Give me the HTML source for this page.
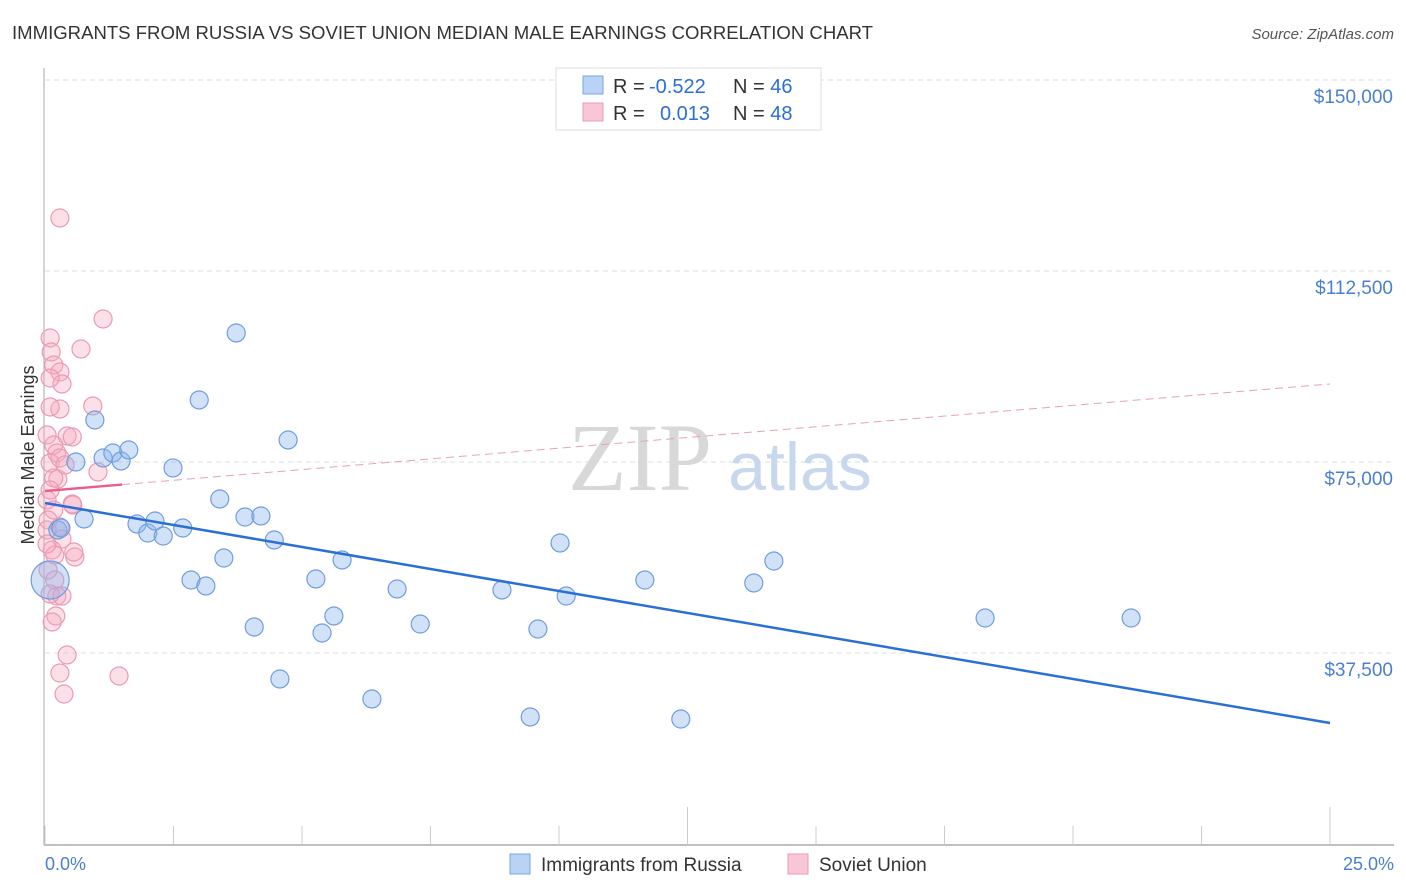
<!DOCTYPE html>
<html><head><meta charset="utf-8"><style>
body{margin:0;background:#fff;font-family:"Liberation Sans",sans-serif;}
svg{display:block}
</style></head><body>
<svg id="chart" width="1406" height="892" xmlns="http://www.w3.org/2000/svg">
<text x="12" y="39" font-size="18.5" fill="#333" textLength="861" lengthAdjust="spacingAndGlyphs">IMMIGRANTS FROM RUSSIA VS SOVIET UNION MEDIAN MALE EARNINGS CORRELATION CHART</text>
<text x="1394" y="39" font-size="15" fill="#555" font-style="italic" text-anchor="end">Source: ZipAtlas.com</text>
<g id="grid"></g>
<text x="640" y="490" font-size="96" fill="#d8d8d8" font-family="Liberation Serif" text-anchor="middle">ZIP</text>
<text x="800" y="490" font-size="68" fill="#c7d8ee" text-anchor="middle">atlas</text>
<g id="marks"></g>
<text transform="translate(34,455) rotate(-90)" font-size="18" fill="#333" text-anchor="middle">Median Male Earnings</text>
<g>
<rect x="556" y="68" width="265" height="62" fill="#fff" stroke="#ddd"/>
<rect x="583" y="76" width="20" height="18" fill="#b8d3f5" stroke="#7aa6e0"/>
<rect x="583" y="103" width="20" height="18" fill="#f9c6d5" stroke="#eb9ab4"/>
<text x="613" y="93" font-size="20" fill="#333">R = <tspan fill="#2a6fd6" x="649">-0.522</tspan><tspan x="733">N = </tspan><tspan fill="#2a6fd6">46</tspan></text>
<text x="613" y="120" font-size="20" fill="#333">R = <tspan fill="#2a6fd6" x="660">0.013</tspan><tspan x="733">N = </tspan><tspan fill="#2a6fd6">48</tspan></text>
</g>
<text x="45" y="870" font-size="18" fill="#4a7fd0">0.0%</text>
<text x="1394" y="870" font-size="18" fill="#4a7fd0" text-anchor="end">25.0%</text>
<g>
<rect x="510" y="854" width="20" height="20" fill="#b8d3f5" stroke="#7aa6e0"/>
<text x="541" y="871" font-size="19" fill="#333">Immigrants from Russia</text>
<rect x="788" y="854" width="20" height="20" fill="#f9c6d5" stroke="#eb9ab4"/>
<text x="819" y="871" font-size="19" fill="#333">Soviet Union</text>
</g>
</svg>
<script>
const yTicks=[37500,75000,112500,150000];
const yTickLabels=["$37,500","$75,000","$112,500","$150,000"];
const xTicks=[0,2.5,5,7.5,10,12.5,15,17.5,20,22.5,25];
const blueX=[0.97,0.60,1.13,1.32,1.48,1.63,2.49,3.00,3.72,4.73,3.40,1.79,2.00,2.14,2.30,2.68,3.89,4.20,4.46,3.48,2.84,3.13,4.07,4.57,5.27,5.78,5.62,5.39,6.36,6.85,7.30,8.89,9.44,9.59,10.02,10.14,11.67,12.37,13.79,14.18,18.29,21.13,0.76,0.25,0.31,0.10];
const blueY=[83250,75000,75790,76770,75200,77360,73830,87180,100330,79320,67740,62830,61060,63420,60470,62040,64200,64400,59690,56150,51830,50660,42610,32400,52030,55760,44770,41430,28470,50070,43190,49870,24940,42210,59100,48690,51830,24540,51250,55560,44370,44370,63810,61650,62040,51830];
const pinkX=[0.29,1.13,0.70,0.10,0.12,0.17,0.29,0.33,0.10,0.93,0.29,0.10,0.43,0.04,0.17,0.23,1.03,0.25,0.17,0.53,0.04,0.17,0.06,0.29,0.58,0.33,0.14,0.06,0.19,0.23,0.33,0.10,0.21,0.43,0.29,0.37,1.44,0.10,0.10,0.29,0.04,0.19,0.04,0.54,0.53,0.56,0.14,0.39];
const pinkY=[122910,103080,97190,99350,96600,94050,92670,90320,91490,86000,85410,85800,80110,80300,78340,76770,73040,71660,71860,66760,67540,65580,63610,62240,56350,59880,57720,53800,51830,48690,48690,49090,44770,37110,33570,29450,32990,69510,74810,75790,61650,56740,58900,66560,79910,57330,43590,74420];
const blueTrend=[66950,23760];
const pinkTrend=[69310,90320];
const X=v=>45+v/25*1285;
const Y=v=>844-v/37500*191;
const NS="http://www.w3.org/2000/svg";
const gridG=document.getElementById('grid'),marksG=document.getElementById('marks');
function mk(p,tag,a){const e=document.createElementNS(NS,tag);for(const k in a)e.setAttribute(k,a[k]);p.appendChild(e);return e;}
yTicks.forEach((t,i)=>{
 const l=mk(gridG,'line',{x1:45,x2:1394,y1:Y(t),y2:Y(t),stroke:'#ddd','stroke-dasharray':'5,4'});
 
 
 const tx=mk(gridG,'text',{x:1393,y:Y(t)+23,'font-size':19,fill:'#4a7fd0','text-anchor':'end'});
 tx.textContent=yTickLabels[i];
 
 
});
const ya=mk(gridG,'line',{x1:44,x2:44,y1:68,y2:845,stroke:'#aaa'});


const xa=mk(gridG,'line',{x1:44,x2:1394,y1:845,y2:845,stroke:'#aaa','stroke-width':1.5});


xTicks.forEach((t,i)=>{
 const major=(i%5===0&&i>0);
 const l=mk(gridG,'line',{x1:X(t),x2:X(t),y1:major?807:826,y2:845,stroke:'#ccc'});
 
 
});
pinkX.forEach((v,i)=>{
 const c=mk(marksG,'circle',{cx:X(v),cy:Y(pinkY[i]),r:9,fill:'rgba(245,165,190,0.35)',stroke:'#eb9ab4','stroke-width':1.2});
 
 
});
blueX.forEach((v,i)=>{
 const big=i===blueX.length-1;
 const c=mk(marksG,'circle',{cx:X(v),cy:Y(blueY[i]),r:big?19:9,fill:'rgba(140,180,235,0.4)',stroke:'#6f9edd','stroke-width':1.2});
 
 
});
const bt=mk(marksG,'line',{x1:X(0),y1:Y(blueTrend[0]),x2:X(25),y2:Y(blueTrend[1]),stroke:'#2a6fd6','stroke-width':2.5});


const pEnd=1.5,pY=pinkTrend[0]+(pinkTrend[1]-pinkTrend[0])*pEnd/25;
const pt=mk(marksG,'line',{x1:X(0),y1:Y(pinkTrend[0]),x2:X(pEnd),y2:Y(pY),stroke:'#e8608a','stroke-width':2.5});


const pd=mk(marksG,'line',{x1:X(pEnd),y1:Y(pY),x2:X(25),y2:Y(pinkTrend[1]),stroke:'#e8a0b8','stroke-width':1,'stroke-dasharray':'8,5'});


</script>
</body></html>
